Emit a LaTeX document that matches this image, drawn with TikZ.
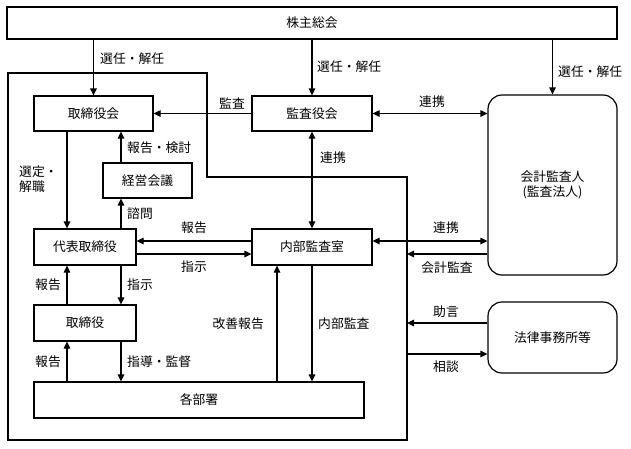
\documentclass[tikz,border=0pt]{standalone}
\usepackage{fontspec}
\setmainfont{Noto Sans CJK JP}
\usetikzlibrary{arrows.meta,calc}
\begin{document}
\begin{tikzpicture}[x=1pt,y=-1pt,
  txt/.style={font=\fontsize{12.8}{15}\selectfont},
  box/.style={draw, line width=1.2pt, rectangle, inner sep=0pt, txt},
  rbox/.style={box, rounded corners=14pt},
  arr/.style={line width=1.2pt, -{Triangle[length=7pt,width=6.5pt]}},
  darr/.style={line width=1.2pt, {Triangle[length=7pt,width=6.5pt]}-{Triangle[length=7pt,width=6.5pt]}},
  lbl/.style={inner sep=0pt, txt}]
\useasboundingbox (0,0) rectangle (631,448);
% outline of the company
\draw[line width=1.2pt] (8,73) -- (207,73) -- (207,177) -- (407,177) -- (407,440) -- (8,440) -- cycle;
% nodes
\node[box, minimum width=610pt, minimum height=32pt] (sh) at (312,23) {株主総会};
\node[box, minimum width=119pt, minimum height=35pt] (tb) at (93.5,113.5) {取締役会};
\node[box, minimum width=120pt, minimum height=35pt] (ka) at (312,113.5) {監査役会};
\node[rbox, minimum width=129pt, minimum height=180pt, align=center] (kk) at (552.5,185) {会計監査人\\(監査法人)};
\node[box, minimum width=89pt, minimum height=35pt] (kei) at (147.5,180.5) {経営会議};
\node[box, minimum width=102pt, minimum height=36pt] (dh) at (85,247) {代表取締役};
\node[box, minimum width=120pt, minimum height=36pt] (nb) at (312,247) {内部監査室};
\node[box, minimum width=102pt, minimum height=36pt] (tr) at (85,323) {取締役};
\node[box, minimum width=330pt, minimum height=36pt] (kb) at (199,400) {各部署};
\node[rbox, minimum width=129pt, minimum height=71pt] (hr) at (552.5,337.5) {法律事務所等};
% helper coordinates
\coordinate (xL) at (67,0);
\coordinate (xR) at (121,0);
\coordinate (xK) at (277,0);
\coordinate (xO) at (407,0);
\coordinate (yA) at (0,241);
\coordinate (yB) at (0,254);
\coordinate (yC) at (0,323);
\coordinate (yD) at (0,354);
% connectors from shareholders
\draw[arr] (sh.south -| tb.north) -- (tb.north);
\draw[arr] (sh.south -| ka.north) -- (ka.north);
\draw[arr] (sh.south -| kk.north) -- (kk.north);
\node[lbl, anchor=west] (l1) at (100,59) {選任・解任};
\node[lbl, anchor=west] (l2) at (317,67) {選任・解任};
\node[lbl, anchor=west] (l3) at (558,72) {選任・解任};
% audit board
\draw[arr] (ka.west) -- (tb.east);
\node[lbl] (l4) at (232,103) {監査};
\draw[darr] (ka.east) -- (ka.east -| kk.west);
\node[lbl] (l5) at (432,102) {連携};
\draw[darr] (ka.south) -- (nb.north);
\node[lbl, anchor=west] (l6) at (320,158) {連携};
% board and executives
\draw[arr] (tb.south -| xL) -- (dh.north -| xL);
\node[lbl, anchor=west, align=left] (l7) at (19,179) {選定・\\解職};
\draw[arr] (kei.north -| xR) -- (tb.south -| xR);
\node[lbl, anchor=west] (l8) at (127,148) {報告・検討};
\draw[arr] (dh.north -| xR) -- (kei.south -| xR);
\node[lbl, anchor=west] (l9) at (127,214) {諮問};
\draw[arr] (nb.west |- yA) -- (dh.east |- yA);
\node[lbl] (l10) at (194,228) {報告};
\draw[arr] (dh.east |- yB) -- (nb.west |- yB);
\node[lbl] (l11) at (194,267) {指示};
\draw[arr] (dh.south -| xR) -- (tr.north -| xR);
\node[lbl, anchor=west] (l12) at (127,285) {指示};
\draw[arr] (tr.north -| xL) -- (dh.south -| xL);
\node[lbl, anchor=east] (l13) at (61,285) {報告};
\draw[arr] (kb.north -| xL) -- (tr.south -| xL);
\node[lbl, anchor=east] (l14) at (61,362) {報告};
\draw[arr] (tr.south -| xR) -- (kb.north -| xR);
\node[lbl, anchor=west] (l15) at (127,362) {指導・監督};
% internal audit
\draw[arr] (kb.north -| xK) -- (nb.south -| xK);
\node[lbl, anchor=east] (l16) at (264,324) {改善報告};
\draw[arr] (nb.south) -- (kb.north -| nb.south);
\node[lbl, anchor=west] (l17) at (318,324) {内部監査};
\draw[darr] (nb.east |- yA) -- (kk.west |- yA);
\node[lbl] (l18) at (446,228) {連携};
\draw[arr] (kk.west |- yB) -- (xO |- yB);
\node[lbl] (l19) at (447,268) {会計監査};
% law firm
\draw[arr] (hr.west |- yC) -- (xO |- yC);
\node[lbl] (l20) at (446,312) {助言};
\draw[arr] (xO |- yD) -- (hr.west |- yD);
\node[lbl] (l21) at (446,367) {相談};
\end{tikzpicture}
\end{document}
